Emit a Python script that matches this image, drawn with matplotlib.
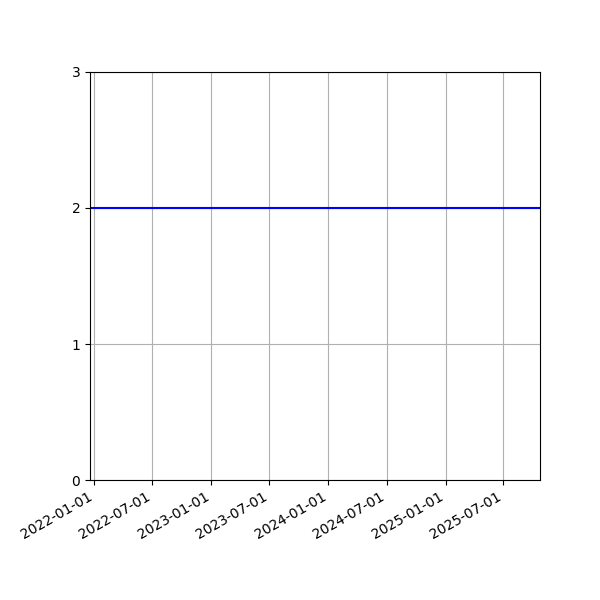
import matplotlib
matplotlib.use("Agg")
import matplotlib.pyplot as plt
import matplotlib.dates as mdates
import numpy as np
import datetime as dt

dates = [dt.datetime(2021, 12, 18), dt.datetime(2025, 10, 23)]
values = [2, 2]

fig = plt.figure(figsize=(6, 6), dpi=100)
ax = fig.add_axes([0.15, 0.2, 0.75, 0.68])
ax.plot(dates, values, color="blue")
ax.set_xlim(dates[0], dates[-1])
ax.set_ylim(0, 3)
ax.set_yticks([0, 1, 2, 3])
ax.xaxis.set_major_locator(mdates.MonthLocator(bymonth=[1, 7]))
ax.xaxis.set_major_formatter(mdates.DateFormatter("%Y-%m-%d"))
ax.grid(True)
for lbl in ax.get_xticklabels():
    lbl.set_rotation(30)
    lbl.set_ha("right")
fig.savefig("out.png", dpi=100)
